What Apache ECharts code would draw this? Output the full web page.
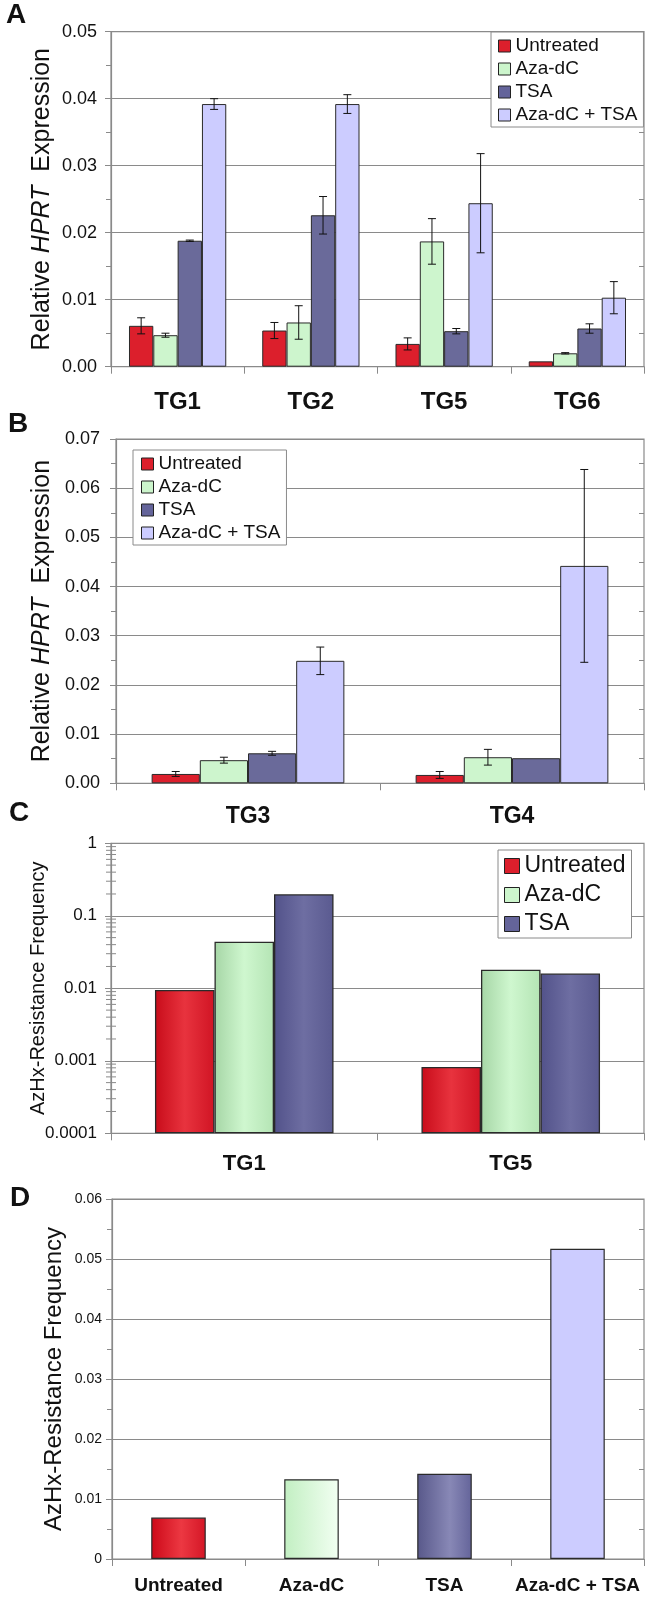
<!DOCTYPE html>
<html>
<head>
<meta charset="utf-8">
<title>HPRT expression and AzHx resistance</title>
<script src="https://cdn.jsdelivr.net/npm/echarts@6/dist/echarts.min.js"></script>
<style>
  html, body { margin: 0; padding: 0; background: #fff; }
  #chart { width: 645px; height: 1597px; }
</style>
</head>
<body>
<div id="chart"></div>
<script>
// ---- data ----
const treatments = ['Untreated', 'Aza-dC', 'TSA', 'Aza-dC + TSA'];

// Panel A: relative HPRT expression, lines TG1/TG2/TG5/TG6
const groupsA = ['TG1', 'TG2', 'TG5', 'TG6'];
const untreatedA = [0.0061, 0.0054, 0.0034, 0.0008];
const azaA = [0.0047, 0.0066, 0.0187, 0.0020];
const tsaA = [0.0188, 0.0226, 0.0053, 0.0057];
const comboA = [0.0392, 0.0392, 0.0244, 0.0103];
const untreatedErrA = [0.0012, 0.0012, 0.0009, 0];
const azaErrA = [0.0003, 0.0025, 0.0034, 0.0001];
const tsaErrA = [0.0001, 0.0028, 0.0004, 0.0007];
const comboErrA = [0.0008, 0.0014, 0.0074, 0.0024];

// Panel B: relative HPRT expression, lines TG3/TG4
const groupsB = ['TG3', 'TG4'];
const untreatedB = [0.0019, 0.0017];
const azaB = [0.0047, 0.0053];
const tsaB = [0.0061, 0.0051];
const comboB = [0.0249, 0.0442];
const untreatedErrB = [0.0005, 0.0007];
const azaErrB = [0.0006, 0.0016];
const tsaErrB = [0.0004, 0];
const comboErrB = [0.0028, 0.0196];

// Panel C: AzHx-resistance frequency (log scale), lines TG1/TG5
const groupsC = ['TG1', 'TG5'];
const treatmentsC = ['Untreated', 'Aza-dC', 'TSA'];
const untreatedC = [0.0095, 0.00082];
const azaC = [0.044, 0.018];
const tsaC = [0.198, 0.016];
const logTickLabelsC = ['1', '0.1', '0.01', '0.001', '0.0001'];

// Panel D: AzHx-resistance frequency by treatment
const valuesD = [0.0069, 0.0133, 0.0142, 0.0517];

// ---- styles ----
const FONT = '"Liberation Sans", Arial, Helvetica, sans-serif';
const INK = '#111';
const GRID_GREY = '#8a8a8a';
const BAR_EDGE = '#2a2a2a';

const hGrad = (stops) => ({
  type: 'linear', x: 0, y: 0, x2: 1, y2: 0,
  colorStops: stops.map(([o, c]) => ({ offset: o, color: c }))
});

const flatColors = ['#dc1f2c', '#cdf5cd', '#6a6a9a', '#ccccff'];
const legendColors = ['#dc1f2c', '#ccf5cc', '#64649a', '#ccccff'];
const gradColorsC = [
  hGrad([[0, '#c80c1a'], [0.5, '#e8333e'], [1, '#d01424']]),
  hGrad([[0, '#a6d6a6'], [0.5, '#cff7cf'], [1, '#b4e4b4']]),
  hGrad([[0, '#52528a'], [0.5, '#6e6ea2'], [1, '#5a5a90']])
];
const gradColorsD = [
  hGrad([[0, '#cc0818'], [0.55, '#ec3842'], [1, '#d41626']]),
  hGrad([[0, '#c2efc2'], [1, '#f2fff2']]),
  hGrad([[0, '#58588a'], [0.6, '#8888b6'], [1, '#64649a']]),
  '#ccccff'
];

// plot areas
const LAYOUT = [
  { left: 111, top: 31.7, height: 335, right: 1 },
  { left: 116, top: 439, height: 344.3, right: 1 },
  { left: 111, top: 843.3, height: 290, right: 1 },
  { left: 112, top: 1199, height: 360, right: 1 }
];

const axisLine = { show: true, lineStyle: { color: GRID_GREY, width: 1.2 } };
const splitLine = { show: true, lineStyle: { color: GRID_GREY, width: 1.2 } };

function valueAxis(i, o) {
  return Object.assign({
    gridIndex: i,
    type: 'value',
    axisLine: axisLine,
    splitLine: splitLine,
    axisTick: { show: true, length: 6, lineStyle: { color: GRID_GREY } },
    minorTick: { show: true, splitNumber: 2, length: 5, lineStyle: { color: GRID_GREY } },
    nameLocation: 'middle',
    nameRotate: 90,
    nameMoveOverlap: false
  }, o);
}

// a second copy of an axis that only draws its minor ticks inward,
// so minor ticks cross the axis line
function innerMinorAxis(i, min, max, interval) {
  return {
    gridIndex: i, type: 'value', min: min, max: max, interval: interval,
    axisLine: { show: false }, splitLine: { show: false },
    axisLabel: { show: false },
    axisTick: { show: false, inside: true },
    minorTick: { show: true, splitNumber: 2, length: 5, lineStyle: { color: GRID_GREY } }
  };
}

function categoryAxis(i, data, fontSize, margin) {
  return {
    gridIndex: i,
    type: 'category',
    data: data,
    axisLine: axisLine,
    axisTick: { show: true, length: 7, lineStyle: { color: GRID_GREY } },
    axisLabel: {
      interval: 0, hideOverlap: false,
      color: INK, fontFamily: FONT, fontWeight: 'bold', fontSize: fontSize, margin: margin
    },
    splitLine: { show: false }
  };
}

const tickFmt2 = (v) => v.toFixed(2);

function barSeries(name, data, axis, color, gap, edgeWidth) {
  return {
    type: 'bar', name: name, data: data,
    xAxisIndex: axis, yAxisIndex: axis,
    barGap: '0%', barCategoryGap: gap,
    itemStyle: { color: color, borderColor: BAR_EDGE, borderWidth: edgeWidth || 1 },
    emphasis: { disabled: true }
  };
}

// error bars for grouped bars: one item per [category, seriesSlot, value, err]
function errorBarSeries(axis, nSlots, gapRatio, valueSets, errSets) {
  const data = [];
  valueSets.forEach((vals, s) => {
    vals.forEach((v, c) => data.push([c, s, v, errSets[s][c]]));
  });
  return {
    type: 'custom',
    xAxisIndex: axis, yAxisIndex: axis,
    z: 5,
    silent: true,
    encode: { x: 0, y: 2 },
    data: data,
    renderItem: function (params, api) {
      const c = api.value(0), s = api.value(1), v = api.value(2), e = api.value(3);
      if (!e) return null;
      const catW = api.size([1, 0])[0];
      const groupW = catW * (1 - gapRatio);
      const barW = groupW / nSlots;
      const mid = api.coord([c, v]);
      const x = mid[0] - groupW / 2 + barW * (s + 0.5);
      const yHi = api.coord([c, v + e])[1];
      const yLo = api.coord([c, v - e])[1];
      const cap = 4;
      const st = { stroke: '#111', lineWidth: 1 };
      return {
        type: 'group',
        children: [
          { type: 'line', shape: { x1: x, y1: yHi, x2: x, y2: yLo }, style: st },
          { type: 'line', shape: { x1: x - cap, y1: yHi, x2: x + cap, y2: yHi }, style: st },
          { type: 'line', shape: { x1: x - cap, y1: yLo, x2: x + cap, y2: yLo }, style: st }
        ]
      };
    }
  };
}

function legendAt(left, top, names, colors, fontSize, icon, gap, padding) {
  return {
    left: left, top: top, orient: 'vertical',
    backgroundColor: '#fff', borderColor: '#8a8a8a', borderWidth: 1,
    padding: padding, itemGap: gap,
    itemWidth: icon, itemHeight: icon,
    selectedMode: false,
    textStyle: { color: INK, fontFamily: FONT, fontSize: fontSize, lineHeight: fontSize + 1 },
    data: names.map((n, i) => ({
      name: n, icon: 'rect',
      itemStyle: { color: colors[i], borderColor: '#222', borderWidth: 1 }
    }))
  };
}

const hprtName = {
  name: '{n|Relative }{i|HPRT}{n|  Expression}',
  nameTextStyle: {
    color: INK, fontFamily: FONT, fontSize: 25,
    rich: {
      n: { fontFamily: FONT, fontSize: 25, color: INK },
      i: { fontFamily: FONT, fontSize: 25, color: INK, fontStyle: 'italic' }
    }
  }
};

const chart = echarts.init(document.getElementById('chart'), null, { renderer: 'canvas' });

const option = {
  animation: false,
  backgroundColor: '#fff',
  textStyle: { fontFamily: FONT },
  title: [
    { text: 'A', left: 6, top: 1 },
    { text: 'B', left: 8, top: 410 },
    { text: 'C', left: 9, top: 799 },
    { text: 'D', left: 10, top: 1184 }
  ].map(t => Object.assign(t, {
    padding: 0,
    textStyle: { fontFamily: FONT, fontSize: 28, fontWeight: 'bold', color: INK }
  })),
  legend: [
    legendAt(491, 32, treatments, legendColors, 19, 12, 3, [4, 6, 2, 7]),
    legendAt(133, 450, treatments, legendColors, 19, 12, 3, [4, 6, 2, 8]),
    legendAt(498, 850, treatmentsC, legendColors, 23, 15, 5, [4, 6, 2, 6])
  ],
  grid: LAYOUT.map(g => ({
    left: g.left, top: g.top, height: g.height, right: g.right,
    show: true, borderColor: GRID_GREY, borderWidth: 1.2, backgroundColor: 'transparent'
  })),
  xAxis: [
    categoryAxis(0, groupsA, 24, 24),
    categoryAxis(1, groupsB, 23, 22),
    categoryAxis(2, groupsC, 22, 20),
    categoryAxis(3, treatments, 19, 17)
  ],
  yAxis: [
    valueAxis(0, Object.assign({
      min: 0, max: 0.05, interval: 0.01, nameGap: 56,
      axisLabel: { color: INK, fontFamily: FONT, fontSize: 18, margin: 14, formatter: tickFmt2 }
    }, hprtName)),
    valueAxis(1, Object.assign({
      min: 0, max: 0.07, interval: 0.01, nameGap: 61,
      axisLabel: { color: INK, fontFamily: FONT, fontSize: 18, margin: 16, formatter: tickFmt2 }
    }, hprtName)),
    {
      gridIndex: 2, type: 'log', logBase: 10, min: 0.0001, max: 1,
      startValue: 0.0001,
      axisLine: axisLine, splitLine: splitLine,
      axisTick: { show: true, length: 6, lineStyle: { color: GRID_GREY } },
      axisLabel: {
        color: INK, fontFamily: FONT, fontSize: 17, margin: 14,
        formatter: (v) => logTickLabelsC[Math.round(-Math.log10(v))]
      },
      name: 'AzHx-Resistance Frequency', nameLocation: 'middle', nameRotate: 90, nameGap: 63,
      nameMoveOverlap: false,
      nameTextStyle: { color: INK, fontFamily: FONT, fontSize: 20 }
    },
    valueAxis(3, {
      min: 0, max: 0.06, interval: 0.01, nameGap: 46,
      axisLabel: { color: INK, fontFamily: FONT, fontSize: 14, margin: 10,
        formatter: (v) => (v === 0 ? '0' : v.toFixed(2)) },
      name: 'AzHx-Resistance Frequency',
      nameTextStyle: { color: INK, fontFamily: FONT, fontSize: 24 }
    }),
    innerMinorAxis(0, 0, 0.05, 0.01),
    innerMinorAxis(1, 0, 0.07, 0.01),
    innerMinorAxis(3, 0, 0.06, 0.01)
  ],
  series: [
    // A
    barSeries(treatments[0], untreatedA, 0, flatColors[0], '27%'),
    barSeries(treatments[1], azaA, 0, flatColors[1], '27%'),
    barSeries(treatments[2], tsaA, 0, flatColors[2], '27%'),
    barSeries(treatments[3], comboA, 0, flatColors[3], '27%'),
    errorBarSeries(0, 4, 0.27, [untreatedA, azaA, tsaA, comboA],
      [untreatedErrA, azaErrA, tsaErrA, comboErrA]),
    // B
    barSeries(treatments[0], untreatedB, 1, flatColors[0], '27%'),
    barSeries(treatments[1], azaB, 1, flatColors[1], '27%'),
    barSeries(treatments[2], tsaB, 1, flatColors[2], '27%'),
    barSeries(treatments[3], comboB, 1, flatColors[3], '27%'),
    errorBarSeries(1, 4, 0.27, [untreatedB, azaB, tsaB, comboB],
      [untreatedErrB, azaErrB, tsaErrB, comboErrB]),
    // C
    barSeries(treatmentsC[0], untreatedC, 2, gradColorsC[0], '33%', 1.3),
    barSeries(treatmentsC[1], azaC, 2, gradColorsC[1], '33%', 1.3),
    barSeries(treatmentsC[2], tsaC, 2, gradColorsC[2], '33%', 1.3),
    // D
    {
      type: 'bar', name: 'AzHx resistance', xAxisIndex: 3, yAxisIndex: 3,
      barCategoryGap: '59%',
      emphasis: { disabled: true },
      data: valuesD.map((v, i) => ({
        value: v,
        itemStyle: { color: gradColorsD[i], borderColor: BAR_EDGE, borderWidth: 1.2 }
      }))
    }
  ]
};

chart.setOption(option);

// log-scale minor ticks (2..9 within each decade), crossing the axis line
(function drawLogMinorTicks() {
  const x = LAYOUT[2].left;
  const els = [];
  for (let d = -4; d < 0; d++) {
    for (let k = 2; k <= 9; k++) {
      const y = chart.convertToPixel({ yAxisIndex: 2 }, k * Math.pow(10, d));
      els.push({
        type: 'line', silent: true, z: 10,
        shape: { x1: x - 5, y1: y, x2: x + 5, y2: y },
        style: { stroke: GRID_GREY, lineWidth: 1 }
      });
    }
  }
  chart.setOption({ graphic: els });
})();
</script>
</body>
</html>
